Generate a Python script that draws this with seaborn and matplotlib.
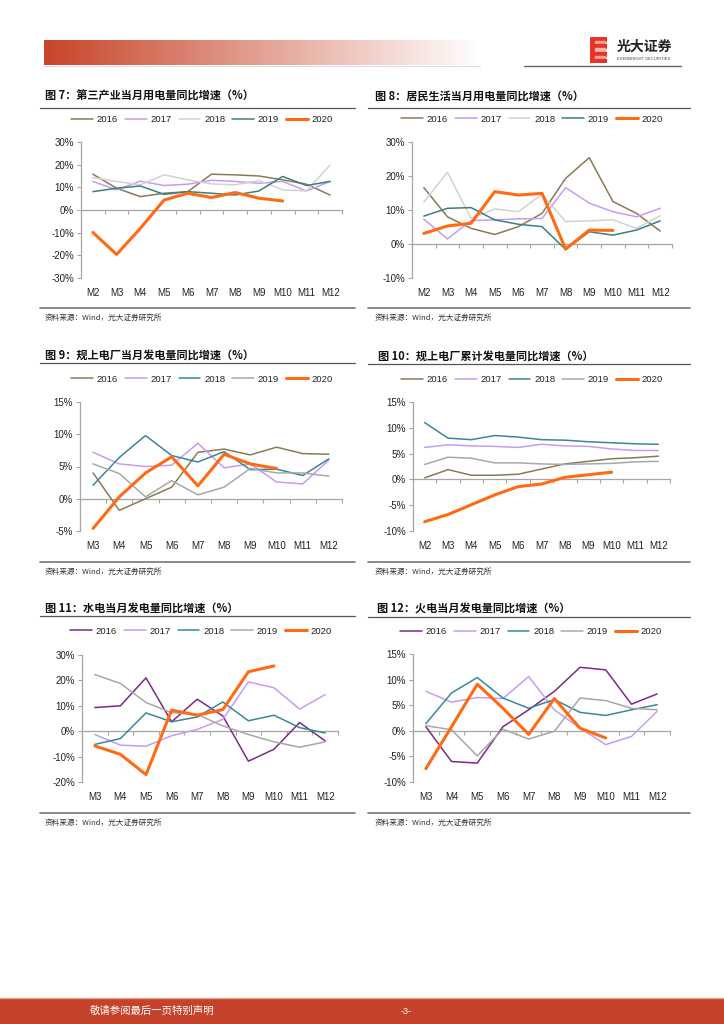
import numpy as np
import pandas as pd
import matplotlib
matplotlib.use('Agg')
import matplotlib.pyplot as plt
import seaborn as sns
from matplotlib.lines import Line2D
from matplotlib.patches import Rectangle
from matplotlib.ticker import FuncFormatter

sns.set_theme(style='white')
plt.rcParams['font.family'] = ['Liberation Sans', 'Noto Sans CJK SC', 'DejaVu Sans']
plt.rcParams['axes.unicode_minus'] = False

# ---------------- data ----------------
years = ['2016', '2017', '2018', '2019', '2020']
months_a = ['M2', 'M3', 'M4', 'M5', 'M6', 'M7', 'M8', 'M9', 'M10', 'M11', 'M12']
months_b = ['M3', 'M4', 'M5', 'M6', 'M7', 'M8', 'M9', 'M10', 'M11', 'M12']

# Fig 7 tertiary industry monthly power use yoy (%)
f7_2016 = [15.8, 9.6, 5.9, 7.4, 8.1, 15.8, 15.5, 15.0, 13.3, 11.4, 6.6]
f7_2017 = [12.6, 8.9, 12.7, 10.8, 11.4, 13.1, 12.6, 11.8, 12.6, 8.4, 12.6]
f7_2018 = [14.3, 12.6, 11.1, 15.5, 13.3, 11.5, 11.1, 13.0, 8.9, 8.4, 19.9]
f7_2019 = [8.1, 9.6, 10.6, 6.9, 8.1, 7.4, 6.6, 8.4, 14.8, 10.8, 12.6]
f7_2020 = [-9.9, -19.6, -8.1, 4.4, 7.4, 5.5, 7.7, 5.2, 4.0]

# Fig 8 residential monthly power use yoy (%)
f8_2016 = [16.6, 8.0, 4.6, 2.8, 5.1, 9.0, 19.3, 25.4, 12.5, 9.0, 3.8]
f8_2017 = [7.3, 1.5, 6.9, 7.1, 7.4, 7.5, 16.6, 12.0, 9.5, 8.0, 10.5]
f8_2018 = [12.3, 21.1, 7.5, 10.3, 9.5, 14.6, 6.6, 6.8, 7.1, 4.6, 8.3]
f8_2019 = [8.2, 10.5, 10.7, 7.1, 5.8, 5.1, -1.6, 3.6, 2.6, 4.1, 6.8]
f8_2020 = [3.1, 5.3, 6.1, 15.4, 14.4, 14.9, -1.5, 4.1, 4.0]

# Fig 9 power generation monthly yoy (%)
f9_2016 = [4.0, -1.8, 0.0, 1.8, 7.2, 7.7, 6.8, 8.0, 7.0, 6.9]
f9_2017 = [7.2, 5.4, 5.0, 5.2, 8.6, 4.8, 5.4, 2.6, 2.3, 6.0]
f9_2018 = [2.1, 6.4, 9.8, 6.7, 5.7, 7.3, 4.5, 4.6, 3.6, 6.2]
f9_2019 = [5.4, 3.9, 0.3, 2.8, 0.6, 1.8, 4.7, 4.0, 4.0, 3.5]
f9_2020 = [-4.6, 0.3, 4.0, 6.5, 2.0, 6.9, 5.4, 4.7]

# Fig 10 power generation cumulative yoy (%)
f10_2016 = [0.3, 1.9, 0.8, 0.8, 1.0, 2.0, 3.0, 3.5, 4.0, 4.2, 4.5]
f10_2017 = [6.2, 6.7, 6.5, 6.4, 6.2, 6.8, 6.5, 6.4, 5.9, 5.6, 5.6]
f10_2018 = [11.0, 8.0, 7.7, 8.5, 8.2, 7.7, 7.6, 7.3, 7.1, 6.9, 6.8]
f10_2019 = [2.9, 4.3, 4.1, 3.2, 3.2, 3.0, 2.9, 3.0, 3.1, 3.4, 3.5]
f10_2020 = [-8.2, -6.8, -4.9, -3.0, -1.4, -0.9, 0.4, 0.9, 1.4]

# Fig 11 hydro power monthly yoy (%)
f11_2016 = [9.3, 10.0, 21.0, 3.7, 12.6, 6.0, -11.8, -7.1, 3.4, -3.8]
f11_2017 = [-1.3, -5.5, -5.9, -1.8, 0.7, 4.7, 19.4, 17.1, 8.7, 14.4]
f11_2018 = [-5.2, -2.9, 7.2, 3.7, 5.6, 11.5, 4.1, 6.3, 1.4, -0.7]
f11_2019 = [22.3, 18.8, 11.3, 7.3, 6.6, 2.1, -1.3, -4.2, -6.3, -4.2]
f11_2020 = [-5.8, -9.1, -17.1, 8.3, 6.3, 8.5, 23.4, 25.7]

# Fig 12 thermal power monthly yoy (%)
f12_2016 = [0.8, -6.0, -6.3, 0.8, 4.1, 7.7, 12.4, 11.9, 5.2, 7.2]
f12_2017 = [7.7, 5.6, 6.5, 6.3, 10.6, 4.1, 0.5, -2.7, -1.1, 3.8]
f12_2018 = [1.4, 7.4, 10.4, 6.4, 4.4, 6.1, 3.6, 3.0, 4.1, 5.1]
f12_2019 = [1.0, 0.2, -4.9, 0.3, -1.6, -0.1, 6.4, 5.9, 4.4, 4.1]
f12_2020 = [-7.4, 0.8, 9.1, 4.4, -0.7, 6.3, 0.5, -1.4]

titles = ['图 7：第三产业当月用电量同比增速（%）',
          '图 8：居民生活当月用电量同比增速（%）',
          '图 9：规上电厂当月发电量同比增速（%）',
          '图 10：规上电厂累计发电量同比增速（%）',
          '图 11：水电当月发电量同比增速（%）',
          '图 12：火电当月发电量同比增速（%）']
source_text = '资料来源：Wind，光大证券研究所'

# ---------------- styles ----------------
OLIVE = '#8B7B55'
LAV = '#C79CF2'
LGRAY = '#D2D2D2'
TEAL = '#3E7E80'
BLUE = '#3A8799'
GRAY = '#A8A8A8'
PURPLE = '#7B2A88'
ORANGE = '#FF6A12'
colors_a = [OLIVE, LAV, LGRAY, TEAL, ORANGE]
colors_b = [OLIVE, LAV, BLUE, GRAY, ORANGE]
colors_c = [PURPLE, LAV, BLUE, GRAY, ORANGE]
widths = [1.1, 1.1, 1.1, 1.1, 2.2]

W, H = 724, 1024
def fx(px):
    return px / W
def fy(py):
    return 1 - py / H

panels = [
    dict(series=[f7_2016, f7_2017, f7_2018, f7_2019, f7_2020], months=months_a, colors=colors_a,
         ylim=(-30, 30), step=10, box=(81, 342, 142, 278), leg=(202, 120), title=(45, 96)),
    dict(series=[f8_2016, f8_2017, f8_2018, f8_2019, f8_2020], months=months_a, colors=colors_a,
         ylim=(-10, 30), step=10, box=(412, 672, 142, 278), leg=(532, 119), title=(375, 96)),
    dict(series=[f9_2016, f9_2017, f9_2018, f9_2019, f9_2020], months=months_b, colors=colors_b,
         ylim=(-5, 15), step=5, box=(80, 342, 402, 531), leg=(202, 379), title=(45, 355)),
    dict(series=[f10_2016, f10_2017, f10_2018, f10_2019, f10_2020], months=months_a, colors=colors_b,
         ylim=(-10, 15), step=5, box=(413, 670, 402, 531), leg=(532, 380), title=(378, 356)),
    dict(series=[f11_2016, f11_2017, f11_2018, f11_2019, f11_2020], months=months_b, colors=colors_c,
         ylim=(-20, 30), step=10, box=(82, 338, 655, 782), leg=(201, 631), title=(45, 608)),
    dict(series=[f12_2016, f12_2017, f12_2018, f12_2019, f12_2020], months=months_b, colors=colors_c,
         ylim=(-10, 15), step=5, box=(413, 670, 654, 782), leg=(531, 632), title=(377, 608)),
]
underline_y = [108, 108, 363, 364, 616, 617]
source_y = [308, 308, 562, 562, 813, 813]

fig = plt.figure(figsize=(W / 100, H / 100), dpi=100)
fig.patch.set_facecolor('white')

AXC = '#A6A6A6'
pct = FuncFormatter(lambda v, p: f'{v:.0f}%')

for i, p in enumerate(panels):
    x0, x1, y0, y1 = p['box']
    ax = fig.add_axes([fx(x0), fy(y1), (x1 - x0) / W, (y1 - y0) / H])
    ax.set_facecolor('none')
    for yr, vals, c, lw in zip(years, p['series'], p['colors'], widths):
        df = pd.DataFrame({'pos': np.arange(len(vals)), 'value': vals})
        sns.lineplot(data=df, x='pos', y='value', ax=ax, color=c, linewidth=lw,
                     label=yr, legend=False, solid_capstyle='round')
    n = len(p['months'])
    ax.set_xlim(-0.5, n - 0.5)
    lo, hi = p['ylim']
    ax.set_ylim(lo, hi)
    ax.set_yticks(np.arange(lo, hi + 0.1, p['step']))
    ax.yaxis.set_major_formatter(pct)
    ax.set_xticks(np.arange(n))
    ax.set_xticklabels(p['months'])
    ax.set_xlabel('')
    ax.set_ylabel('')
    for s in ['top', 'right', 'bottom']:
        ax.spines[s].set_visible(False)
    ax.spines['left'].set_color(AXC)
    ax.spines['left'].set_linewidth(0.9)
    ax.tick_params(axis='y', length=3, width=0.8, color=AXC, direction='out',
                   labelsize=7, labelcolor='#222222', pad=2, left=True)
    ax.tick_params(axis='x', length=0, labelsize=7, labelcolor='#222222', pad=7)
    # zero axis with category boundary ticks
    frac = (0 - lo) / (hi - lo)
    sec = ax.secondary_xaxis(frac)
    sec.set_xticks(np.arange(-0.5, n, 1.0))
    sec.xaxis.set_ticks_position('bottom')
    sec.tick_params(axis='x', length=3, width=0.8, color=AXC, direction='out', labelbottom=False,
                    labeltop=False)
    for s in sec.spines.values():
        s.set_visible(False)
    sec.spines['bottom'].set_visible(True)
    sec.spines['bottom'].set_color(AXC)
    sec.spines['bottom'].set_linewidth(0.9)
    # legend
    h, l = ax.get_legend_handles_labels()
    lx, ly = p['leg']
    ax.legend(h, l, loc='center', bbox_to_anchor=(fx(lx), fy(ly)), bbox_transform=fig.transFigure,
              ncol=5, frameon=False, fontsize=6.8, handlelength=2.3, handletextpad=0.4,
              columnspacing=0.75, borderaxespad=0, labelcolor='#222222')
    # title
    tx, ty = p['title']
    fig.text(fx(tx), fy(ty), titles[i], fontsize=8, fontweight='bold', va='center', ha='left',
             family=['Noto Sans CJK SC', 'DejaVu Sans'], color='#111111')
    left_col = (i % 2 == 0)
    lx0, lx1 = (40, 355) if left_col else (368, 690)
    fig.add_artist(Line2D([fx(lx0), fx(lx1)], [fy(underline_y[i])] * 2, transform=fig.transFigure,
                          color='#555555', lw=0.9))
    fig.add_artist(Line2D([fx(lx0), fx(lx1)], [fy(source_y[i])] * 2, transform=fig.transFigure,
                          color='#777777', lw=1.2))
    fig.text(fx(45 if left_col else 375), fy(source_y[i] + 10), source_text, fontsize=5.5,
             va='center', ha='left', family=['Noto Sans CJK SC', 'DejaVu Sans'], color='#333333')

# ---------------- header ----------------
hax = fig.add_axes([fx(44), fy(65), (480 - 44) / W, 25 / H])
t = np.linspace(0, 1, 400)
start = np.array([0.78, 0.27, 0.16])
grad = start[None, :] * (1 - t[:, None]) + np.array([1, 1, 1])[None, :] * t[:, None]
grad = np.clip(grad, 0, 1)
hax.imshow(grad[None, :, :], aspect='auto', extent=[0, 1, 0, 1])
hax.set_axis_off()
fig.add_artist(Line2D([fx(43), fx(480)], [fy(65.5)] * 2, transform=fig.transFigure,
                      color='#DDDDDD', lw=0.8))
fig.add_artist(Line2D([fx(524), fx(681)], [fy(65.5)] * 2, transform=fig.transFigure,
                      color='#666666', lw=1.0))
# logo icon
lax = fig.add_axes([fx(590), fy(63), 17 / W, 26 / H])
lax.set_xlim(0, 1)
lax.set_ylim(0, 1)
lax.set_axis_off()
lax.add_patch(Rectangle((0, 0), 0.35, 1, color='#E8332A'))
stripe_cols = ['#E8332A', '#F5A38F', '#E8332A', '#F7B7A6', '#E8332A', '#F5A38F', '#E8332A']
for k, c in enumerate(stripe_cols):
    lax.add_patch(Rectangle((0.3, 1 - (k + 1) / 7), 0.7 if k % 2 == 0 else 0.6, 1 / 7, color=c))
fig.text(fx(617), fy(47), '光大证券', fontsize=10, fontweight='bold', va='center', ha='left',
         family=['Noto Sans CJK SC', 'DejaVu Sans'], color='#222222')
fig.text(fx(617), fy(59), 'EVERBRIGHT SECURITIES', fontsize=3, va='center', ha='left', color='#444444')

# ---------------- footer ----------------
fax = fig.add_axes([0, 0, 1, 26 / H])
fax.set_axis_off()
fax.add_patch(Rectangle((0, 0), 1, 1, transform=fax.transAxes, color='#C4432A'))
fig.add_artist(Line2D([0, 1], [fy(997.5)] * 2, transform=fig.transFigure, color='#E8A090', lw=1))
fig.text(fx(90), fy(1011), '敬请参阅最后一页特别声明', fontsize=7.5, color='white', va='center',
         ha='left', family=['Noto Sans CJK SC', 'DejaVu Sans'])
fig.text(fx(406), fy(1011), '-3-', fontsize=6.5, color='white', va='center', ha='center')

fig.savefig('out.png', dpi=100, facecolor='white')
